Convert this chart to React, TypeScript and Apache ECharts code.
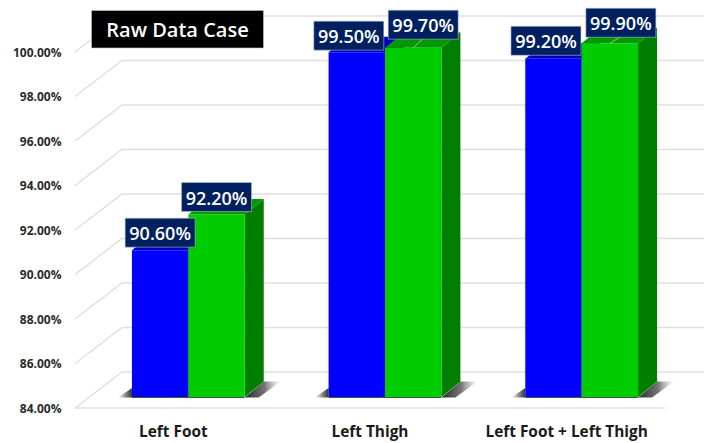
import React, { useEffect, useRef } from "react";
import * as echarts from "echarts";

const categories = ["Left Foot", "Left Thigh", "Left Foot + Left Thigh"];
const blueValues = [90.6, 99.5, 99.2];
const greenValues = [92.2, 99.7, 99.9];
const yTicks = [84, 86, 88, 90, 92, 94, 96, 98, 100];
const titleText = "Raw Data Case";

// layout only: data-label nudges from the bar's front-top centre (px)
const blueNudges = [[0, -17.5], [-8, -16.5], [-7.5, -18]];
const greenNudges = [[0, -17.5], [10, -23], [11, -20.5]];

const FONT = '"Open Sans", "Noto Sans", sans-serif';
const WALL_DX = 47;
const WALL_DY = -36;
const BAR_SHIFT_X = 15;
const BAR_SHIFT_Y = -11;
const BAR_W = 56.4;
const DEPTH_DX = 19;
const DEPTH_DY = -15.5;
const LINE = "#dfdfdf";

function wallRender(params: any, api: any) {
  const cs = params.coordSys;
  const p = api.coord([0, api.value(1)]);
  const y = p[1];
  const x0 = cs.x;
  const children: any[] = [
    {
      type: "polyline",
      shape: { points: [[x0, y], [x0 + WALL_DX, y + WALL_DY], [cs.x + cs.width + WALL_DX, y + WALL_DY]] },
      style: { fill: "none", stroke: LINE, lineWidth: 1.4 },
    },
  ];
  if (api.value(1) === yTicks[0]) {
    children.push({
      type: "line",
      shape: { x1: x0, y1: y, x2: cs.x + cs.width, y2: y },
      style: { stroke: LINE, lineWidth: 1.4 },
    });
  }
  return { type: "group", children };
}

function shadowRender(params: any, api: any) {
  const c = api.coord([api.value(0), yTicks[0]]);
  const y = c[1] + BAR_SHIFT_Y;
  const left = c[0] + BAR_SHIFT_X - BAR_W;
  const right = c[0] + BAR_SHIFT_X + BAR_W;
  return {
    type: "group",
    children: [
      {
        type: "polygon",
        shape: { points: [[left - 14, y + 0.5], [left, y - 9], [left, y + 0.5]] },
        style: {
          fill: {
            type: "linear", x: 0, y: 0, x2: 1, y2: 0,
            colorStops: [{ offset: 0, color: "rgba(120,120,120,0.05)" }, { offset: 0.6, color: "rgba(70,70,70,0.7)" }, { offset: 1, color: "rgba(40,40,40,0.95)" }],
          },
        },
      },
      {
        type: "polygon",
        shape: { points: [[right, y + 0.5], [right + DEPTH_DX, y + DEPTH_DY], [right + 36, y + DEPTH_DY], [right + 14, y + 0.5]] },
        style: {
          fill: {
            type: "linear", x: 0, y: 0, x2: 1, y2: 0,
            colorStops: [{ offset: 0, color: "rgba(30,30,30,0.95)" }, { offset: 0.55, color: "rgba(70,70,70,0.75)" }, { offset: 1, color: "rgba(150,150,150,0.05)" }],
          },
        },
      },
      {
        type: "line",
        shape: { x1: left, y1: y + 0.5, x2: right, y2: y + 0.5 },
        style: { stroke: "#3a5a3a", lineWidth: 1 },
      },
    ],
  };
}

function barRender(offsetSign: number, front: string, top: string, side: string) {
  return (params: any, api: any) => {
    const t = api.coord([api.value(0), api.value(1)]);
    const b = api.coord([api.value(0), yTicks[0]]);
    const x = t[0] + BAR_SHIFT_X + (offsetSign < 0 ? -BAR_W : 0);
    const yTop = t[1] + BAR_SHIFT_Y;
    const yBot = b[1] + BAR_SHIFT_Y;
    return {
      type: "group",
      children: [
        {
          type: "polygon",
          shape: { points: [[x + BAR_W, yTop], [x + BAR_W + DEPTH_DX, yTop + DEPTH_DY], [x + BAR_W + DEPTH_DX, yBot + DEPTH_DY], [x + BAR_W, yBot]] },
          style: { fill: side },
        },
        {
          type: "polygon",
          shape: { points: [[x, yTop], [x + DEPTH_DX, yTop + DEPTH_DY], [x + BAR_W + DEPTH_DX, yTop + DEPTH_DY], [x + BAR_W, yTop]] },
          style: { fill: top },
        },
        { type: "rect", shape: { x, y: yTop, width: BAR_W, height: yBot - yTop }, style: { fill: front } },
      ],
    };
  };
}

function labelRender(offsetSign: number, nudges: number[][]) {
  return (params: any, api: any) => {
    const idx = api.value(0);
    const v = api.value(1);
    const t = api.coord([idx, v]);
    const cx = t[0] + BAR_SHIFT_X + (offsetSign * BAR_W) / 2;
    const cy = t[1] + BAR_SHIFT_Y;
    const [dx, dy] = nudges[idx];
    const lx = cx + dx;
    const ly = cy + dy;
    const children: any[] = [];
    if (dx > 5) {
      children.push({
        type: "line",
        shape: { x1: cx, y1: cy, x2: lx, y2: ly + 14 },
        style: { stroke: "#a9b4a9", lineWidth: 1 },
      });
    }
    children.push(
      {
        type: "rect",
        shape: { x: lx - 35, y: ly - 14.5, width: 70, height: 29 },
        style: { fill: "#002060", stroke: "#b4c0d4", lineWidth: 0.6 },
      },
      {
        type: "text",
        style: {
          x: lx,
          y: ly + 0.5,
          text: v.toFixed(2) + "%",
          fill: "#ffffff",
          font: `600 18px ${FONT}`,
          textAlign: "center",
          textVerticalAlign: "middle",
        },
      }
    );
    return { type: "group", children };
  };
}

export default function App() {
  const ref = useRef<HTMLDivElement>(null);
  useEffect(() => {
    const chart = echarts.init(ref.current!, undefined, { renderer: "svg" });
    const catIdx = categories.map((_, i) => i);
    chart.setOption({
      animation: false,
      backgroundColor: "#ffffff",
      grid: { left: 75, right: 39, top: 52, bottom: 35, containLabel: false },
      xAxis: {
        type: "category",
        data: categories,
        axisLine: { show: false },
        axisTick: { show: false },
        axisLabel: { color: "#1a1a1a", fontFamily: FONT, fontSize: 15.4, fontWeight: 700, margin: 15.5, interval: 0 },
      },
      yAxis: {
        type: "value",
        min: 84,
        max: 100,
        interval: 2,
        axisLine: { show: false },
        axisTick: { show: false },
        splitLine: { show: false },
        axisLabel: {
          color: "#2b2b2b",
          fontFamily: FONT,
          fontSize: 12,
          fontWeight: 700,
          margin: 13.5,
          formatter: (v: number) => v.toFixed(2) + "%",
        },
      },
      series: [
        { type: "custom", name: "walls", z: 1, clip: false, silent: true, renderItem: wallRender, encode: { x: 0, y: 1 }, data: yTicks.map((t) => [0, t]) },
        { type: "custom", name: "shadow", z: 2, clip: false, silent: true, renderItem: shadowRender, encode: { x: 0, y: 1 }, data: catIdx.map((i) => [i, yTicks[0]]) },
        { type: "custom", name: "Blue", z: 3, clip: false, renderItem: barRender(-1, "#0000ff", "#0000c4", "#00009a"), encode: { x: 0, y: 1 }, data: blueValues.map((v, i) => [i, v]) },
        { type: "custom", name: "Green", z: 4, clip: false, renderItem: barRender(1, "#00cc00", "#009a00", "#007e00"), encode: { x: 0, y: 1 }, data: greenValues.map((v, i) => [i, v]) },
        { type: "custom", name: "BlueLabels", z: 5, clip: false, renderItem: labelRender(-1, blueNudges), encode: { x: 0, y: 1 }, data: blueValues.map((v, i) => [i, v]) },
        { type: "custom", name: "GreenLabels", z: 6, clip: false, renderItem: labelRender(1, greenNudges), encode: { x: 0, y: 1 }, data: greenValues.map((v, i) => [i, v]) },
      ],
      graphic: [
        { type: "rect", z: 100, shape: { x: 91.5, y: 10.5, width: 172, height: 37.5 }, style: { fill: "#000000", stroke: "#c8c8c8", lineWidth: 0.6 } },
        {
          type: "text",
          z: 101,
          x: 177.5,
          y: 29.5,
          style: { text: titleText, fill: "#ffffff", font: `600 20px ${FONT}`, textAlign: "center", textVerticalAlign: "middle" },
        },
      ],
    });
    return () => chart.dispose();
  }, []);
  return <div ref={ref} style={{ position: "fixed", left: 0, top: 0, width: 704, height: 443 }} />;
}
